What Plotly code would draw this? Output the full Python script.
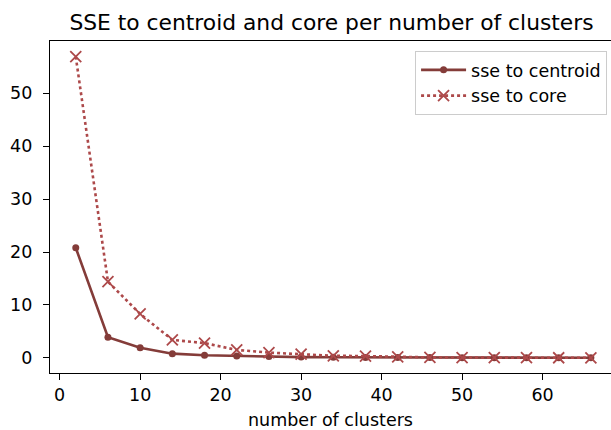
import plotly.graph_objects as go

clusters = [2, 6, 10, 14, 18, 22, 26, 30, 34, 38, 42, 46, 50, 54, 58, 62, 66]
sse_centroid = [20.8, 3.9, 1.9, 0.8, 0.5, 0.35, 0.25, 0.15, 0.12, 0.1, 0.08, 0.06, 0.05, 0.04, 0.03, 0.03, 0.02]
sse_core = [56.9, 14.4, 8.3, 3.4, 2.8, 1.5, 1.0, 0.7, 0.4, 0.35, 0.2, 0.1, 0.07, 0.05, 0.04, 0.03, 0.02]

FONT = "DejaVu Sans"

fig = go.Figure()
fig.add_trace(go.Scatter(x=clusters, y=sse_centroid, mode="lines+markers", name="sse to centroid",
                         line=dict(color="#843c39", width=2.6),
                         marker=dict(symbol="circle", size=7, color="#843c39")))
fig.add_trace(go.Scatter(x=clusters, y=sse_core, mode="lines+markers", name="sse to core",
                         line=dict(color="#ad494a", width=2.6, dash="dot"),
                         marker=dict(symbol="x-thin", size=11, color="#ad494a",
                                     line=dict(color="#ad494a", width=1.8))))

axis_common = dict(showgrid=False, zeroline=False, showline=True, linecolor="black", linewidth=1.2,
                   ticks="outside", ticklen=6, tickwidth=1.2, tickcolor="black",
                   tickfont=dict(family=FONT, size=17.5, color="black"))
fig.update_layout(
    width=611, height=430,
    margin=dict(l=50, r=0, t=41, b=57),
    paper_bgcolor="white", plot_bgcolor="white",
    title=dict(text="SSE to centroid and core per number of clusters",
               xref="container", x=331.5 / 611, xanchor="center",
               yref="container", y=1 - 30 / 430, yanchor="bottom",
               font=dict(family=FONT, size=21.8, color="black")),
    xaxis=dict(range=[-1.2, 68.5], tickvals=[0, 10, 20, 30, 40, 50, 60], mirror=True,
               title=dict(text="number of clusters", font=dict(family=FONT, size=17.5, color="black"), standoff=11),
               **axis_common),
    yaxis=dict(range=[-2.85, 59.85], tickvals=[0, 10, 20, 30, 40, 50], ticklabelstandoff=7,
               mirror=False, **axis_common),
    legend=dict(x=0.993, y=0.97, xanchor="right", yanchor="top", bordercolor="#cccccc", borderwidth=1,
                bgcolor="rgba(255,255,255,0.8)", tracegroupgap=0, itemwidth=45,
                font=dict(family=FONT, size=17.5, color="black")),
    showlegend=True,
)
fig.write_html("out.html")
